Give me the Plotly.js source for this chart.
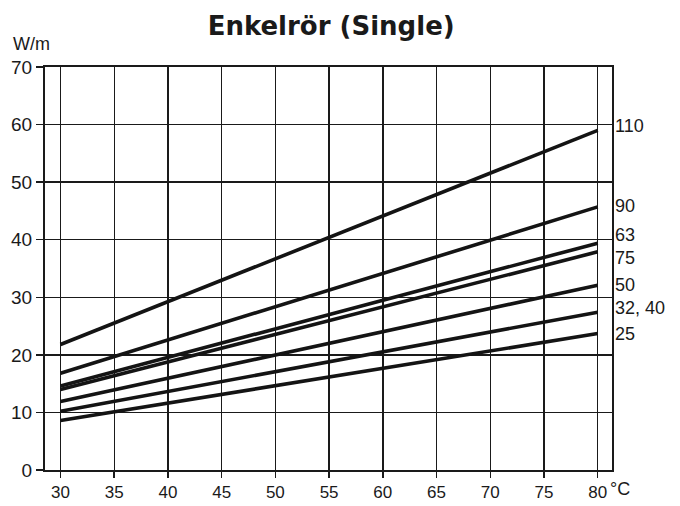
<!DOCTYPE html>
<html>
<head>
<meta charset="utf-8">
<script src="https://cdn.plot.ly/plotly-3.0.1.min.js"></script>
<style>html,body{margin:0;padding:0;background:#fff;}#chart{width:680px;height:506px;}</style>
</head>
<body>
<div id="chart"></div>
<script>
// Data
const temperatures = [30, 80];                       // °C
const pipeSizes = ['110', '90', '63', '75', '50', '32, 40', '25'];
const w110  = [21.8, 59.0];
const w90   = [16.8, 45.7];
const w63   = [14.6, 39.4];
const w75   = [14.0, 37.9];
const w50   = [11.9, 32.1];
const w3240 = [10.2, 27.4];
const w25   = [8.6, 23.7];
const xTicks = [30, 35, 40, 45, 50, 55, 60, 65, 70, 75, 80];
const yTicks = [0, 10, 20, 30, 40, 50, 60, 70];

const seriesValues = [w110, w90, w63, w75, w50, w3240, w25];
// label vertical nudges (px) so the stacked labels don't collide
const labelShift = [4, 1, 8, -6, 0, 4, 0];

const FONT = 'Liberation Sans, Arial, Helvetica, sans-serif';

const traces = seriesValues.map((vals, i) => ({
  x: temperatures,
  y: vals,
  name: pipeSizes[i],
  mode: 'lines',
  line: {color: '#141414', width: 3.6},
  hoverinfo: 'x+y+name'
}));

const annotations = seriesValues.map((vals, i) => ({
  xref: 'paper', yref: 'y',
  x: 1, y: vals[vals.length - 1],
  xanchor: 'left', yanchor: 'middle',
  xshift: 2, yshift: labelShift[i],
  text: pipeSizes[i],
  showarrow: false, borderpad: 0,
  font: {family: FONT, size: 18, color: '#1a1a1a'}
}));
annotations.push({
  xref: 'paper', yref: 'paper', x: -0.06, y: 1.0,
  xanchor: 'left', yanchor: 'middle', yshift: 23,
  text: 'W/m', showarrow: false,
  font: {family: FONT, size: 18, color: '#1a1a1a'}
});
annotations.push({
  xref: 'paper', yref: 'paper', x: 1, y: 0,
  xanchor: 'left', yanchor: 'middle', xshift: -4, yshift: -19,
  text: '°C', showarrow: false,
  font: {family: FONT, size: 18, color: '#1a1a1a'}
});

const axisCommon = {
  showline: true, mirror: true, linecolor: '#1a1a1a', linewidth: 2,
  showgrid: true, gridcolor: '#1a1a1a', gridwidth: 1.4,
  zeroline: false,
  ticks: 'outside', ticklen: 7, tickwidth: 1.5, tickcolor: '#1a1a1a',
  tickfont: {family: FONT, size: 19, color: '#1a1a1a'},
  fixedrange: true
};

const layout = {
  width: 680, height: 506,
  margin: {l: 45, r: 68, t: 67, b: 36},
  paper_bgcolor: '#fff', plot_bgcolor: '#fff',
  showlegend: false,
  title: {
    text: '<b>Enkelrör (Single)</b>',
    xref: 'container', yref: 'container',
    x: 0.487, xanchor: 'center',
    y: 0.948, yanchor: 'middle',
    font: {family: 'DejaVu Sans, ' + FONT, size: 26, color: '#1a1a1a'}
  },
  xaxis: Object.assign({}, axisCommon, {
    range: [28.56, 81.33],
    tickmode: 'array', tickvals: xTicks, ticktext: xTicks.map(String),
    ticklen: 6,
    tickfont: {family: FONT, size: 17, color: '#1a1a1a'},
    ticklabelstandoff: 0
  }),
  yaxis: Object.assign({}, axisCommon, {
    range: [0, 70],
    tickmode: 'array', tickvals: yTicks, ticktext: yTicks.map(String)
  }),
  annotations: annotations
};

Plotly.newPlot('chart', traces, layout, {displayModeBar: false, staticPlot: true});
</script>
</body>
</html>
